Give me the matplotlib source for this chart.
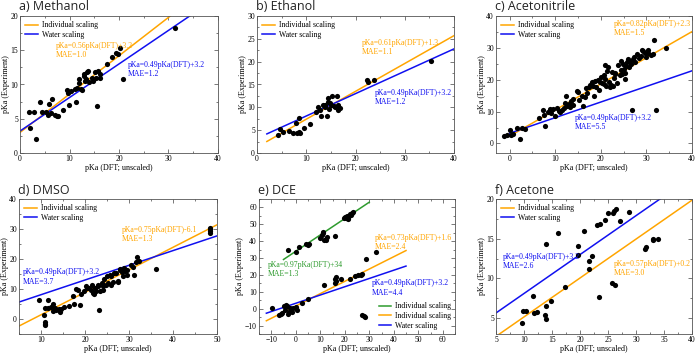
import matplotlib
matplotlib.use("Agg")
import matplotlib.pyplot as plt
from matplotlib.ticker import MultipleLocator

ORANGE = "#FFA500"
BLUE = "#1010F0"
GREEN = "#2E9B2E"

# ---------------- data ----------------
meoh_x = [3.3, 2.1, 1.8, 2.8, 4.0, 4.5, 5.2, 5.6, 5.8, 6.3, 6.4, 7.0, 7.4, 7.7, 8.6, 9.4, 9.7, 9.8,
          10.4, 11.2, 11.4, 11.6, 11.9, 12.3, 12.6, 12.9, 13.0, 13.3, 13.6, 13.8, 14.0, 14.5, 14.8,
          15.2, 15.4, 15.5, 15.8, 16.1, 16.2, 17.6, 18.6, 19.4, 19.8, 20.3, 20.9, 31.4, 12.0, 13.1]
meoh_y = [2.0, 3.7, 6.0, 6.0, 7.4, 6.0, 6.0, 5.6, 7.2, 5.9, 7.9, 5.5, 5.4, 5.4, 6.3, 9.2, 8.8, 7.0,
          9.0, 9.3, 7.4, 9.5, 10.2, 9.4, 9.2, 11.2, 11.5, 10.8, 11.8, 11.9, 10.4, 11.0, 10.5,
          11.8, 11.0, 6.8, 11.9, 11.6, 10.9, 13.0, 14.0, 14.6, 14.4, 15.3, 10.8, 18.3, 10.8, 10.5]

etoh_x = [4.2, 4.7, 5.3, 6.5, 7.3, 8.0, 8.1, 8.5, 8.5, 8.7, 9.6, 10.8, 12.0, 12.3, 12.7, 12.9, 13.5,
          13.8, 14.3, 14.5, 14.6, 14.8, 15.0, 15.3, 15.6, 15.9, 16.3, 16.4, 16.5, 16.8, 22.3, 22.6,
          23.8, 35.3, 13.8, 14.4]
etoh_y = [4.0, 5.3, 4.6, 4.8, 4.3, 6.6, 4.3, 4.5, 7.6, 4.3, 5.5, 6.3, 9.0, 10.0, 9.5, 8.2, 10.5,
          10.0, 8.2, 12.0, 9.7, 11.0, 10.6, 12.4, 10.3, 10.0, 12.5, 9.5, 10.5, 9.8, 16.0, 15.6,
          15.9, 20.2, 10.5, 11.2]

acn_x = [-1.2, -0.5, 0.0, 0.2, 0.7, 1.5, 2.2, 2.6, 3.3, 6.5, 7.3, 7.8, 7.5, 8.3, 9.0, 9.6, 9.9,
         10.3, 11.0, 11.4, 12.0, 12.4, 12.6, 13.0, 13.5, 13.8, 14.0, 14.8, 14.9, 15.3, 15.8, 16.0,
         16.5, 17.0, 17.5, 17.7, 18.0, 18.3, 18.5, 18.8, 19.0, 19.3, 19.7, 20.0, 20.3, 20.6, 20.9,
         21.2, 21.4, 21.6, 21.8, 22.0, 22.3, 22.6, 22.9, 23.2, 23.5, 23.8, 24.1, 24.4, 24.6, 24.9,
         25.2, 25.5, 25.8, 26.0, 26.3, 26.6, 26.8, 27.0, 27.3, 27.6, 28.0, 28.4, 28.8, 29.2, 29.6,
         30.0, 30.4, 30.9, 31.4, 31.7, 32.2, 34.2, 25.0, 23.0, 20.8, 19.9, 16.8, 13.3, 12.1, 10.8,
         8.8, 25.4, 26.2, 29.0, 30.3, 22.5, 21.0, 24.5]
acn_y = [2.3, 2.6, 4.3, 2.8, 3.0, 4.8, 1.3, 5.0, 4.5, 8.0, 10.4, 5.5, 9.0, 10.0, 9.5, 10.8, 8.5,
         11.0, 9.8, 10.5, 11.2, 15.0, 11.8, 12.5, 13.2, 12.0, 14.0, 16.5, 16.0, 13.5, 15.0, 11.8,
         14.6, 15.8, 17.6, 18.4, 19.2, 18.0, 15.0, 19.7, 17.8, 20.0, 16.8, 21.0, 19.0, 21.5, 20.2,
         18.0, 22.8, 24.0, 19.4, 17.8, 18.3, 18.0, 20.5, 21.8, 19.0, 24.5, 21.5, 23.0, 21.8, 25.0,
         22.0, 24.2, 25.5, 26.5, 25.8, 24.8, 10.5, 26.5, 27.0, 25.5, 28.0, 26.8, 27.5, 29.0, 28.5,
         27.0, 28.5, 27.8, 28.0, 32.5, 10.6, 29.8, 23.5, 22.0, 18.6, 19.3, 17.3, 11.5, 12.8, 10.3,
         10.7, 20.1, 24.0, 29.4, 29.2, 22.4, 24.5, 26.0]

dmso_x = [9.5, 10.6, 10.9, 11.0, 11.0, 11.0, 11.6, 11.7, 12.2, 12.7, 12.8, 13.2, 13.5, 14.2, 14.3,
          14.5, 15.2, 16.3, 17.2, 17.5, 18.4, 18.9, 19.2, 19.8, 20.2, 20.5, 20.8, 21.3, 21.6, 21.8,
          22.0, 22.3, 22.6, 23.0, 23.2, 23.4, 23.8, 24.1, 24.4, 24.7, 25.0, 25.3, 25.6, 25.9, 26.3,
          26.7, 27.1, 27.4, 27.6, 27.9, 28.3, 28.6, 28.9, 29.2, 29.5, 29.6, 30.4, 30.9, 31.2, 31.6,
          31.9, 32.3, 36.2, 48.3, 48.4, 48.5, 48.4, 24.2, 22.9, 26.0, 28.0, 18.0]
dmso_y = [6.5, 1.2, 3.8, -1.0, -1.5, -2.0, 6.2, 3.8, 3.9, 2.8, 5.0, 3.6, 3.0, 3.5, 2.5,
          3.3, 4.0, 4.2, 7.8, 5.0, 9.8, 4.6, 8.5, 9.3, 11.0, 10.5, 10.2, 9.8, 11.2, 8.8,
          8.5, 10.3, 9.3, 11.0, 3.0, 9.5, 12.0, 11.0, 13.3, 11.3, 14.3, 12.0, 14.8, 11.5, 12.3,
          15.3, 15.5, 12.8, 12.2, 16.2, 15.8, 14.5, 17.0, 16.0, 16.5, 14.8, 18.0, 17.5, 14.8, 19.0,
          20.8, 19.2, 16.8, 29.2, 29.9, 30.3, 28.8, 9.8, 11.5, 14.5, 16.8, 10.0]

dce_up_x = [-3.0, 0.0, 1.5, 4.0, 5.2, 5.3, 10.0, 10.8, 11.2, 11.5, 12.3, 12.8, 16.0, 19.5, 20.0,
            20.5, 21.0, 21.5, 22.0, 22.5, 23.0, 23.5, 21.2, 11.0]
dce_up_y = [34.8, 33.5, 36.3, 38.5, 37.5, 38.3, 42.0, 43.5, 45.5, 40.5, 41.0, 42.5, 43.2, 53.5, 54.2,
            53.8, 55.2, 54.0, 56.0, 55.5, 56.8, 57.5, 53.0, 44.8]
dce_lo_x = [-9.5, -7.0, -6.0, -5.5, -4.8, -4.5, -4.0, -3.5, -3.0, -2.8, -2.5, -2.0, -1.5, -1.0, 0.0,
            0.5, 2.5, 5.0, 11.5, 16.0, 16.2, 16.3, 16.5, 18.5, 22.0, 24.0, 25.5, 26.5, 27.0, 27.2,
            28.0, 28.3, 28.5, 32.8]
dce_lo_y = [0.3, -3.5, -3.0, -2.8, 1.5, -1.0, 2.0, 1.8, -3.2, -2.0, 0.5, -0.5, -1.8, 0.2, 0.8,
            -0.5, 3.5, 5.5, 13.8, 15.0, 17.5, 18.7, 16.5, 17.5, 17.8, 19.5, 20.2, 19.8, 20.5, -4.0,
            -4.5, -5.0, 29.2, 33.3]

acet_x = [9.6, 9.9, 10.3, 11.6, 11.7, 12.3, 13.7, 13.9, 14.0, 14.0, 14.8, 16.1, 17.3, 19.7, 19.7,
          20.8, 21.6, 21.6, 22.2, 23.0, 23.4, 23.5, 24.5, 25.0, 25.8, 25.9, 26.0, 26.2, 26.4, 27.1,
          28.8, 31.6, 31.8, 33.0, 33.1, 33.9]
acet_y = [4.4, 5.9, 5.9, 7.8, 5.6, 5.8, 5.4, 4.9, 6.5, 14.3, 7.2, 15.7, 8.9, 14.1, 13.0,
          16.0, 12.2, 11.2, 12.8, 16.7, 7.6, 16.9, 17.4, 18.2, 9.4, 18.2, 18.5, 9.2, 18.8, 17.2,
          18.3, 13.7, 14.0, 14.8, 15.0, 15.0]

# fit lines as drawn: (slope, intercept)
water_fit = (0.49, 3.2)
meoh_fit = (0.56, 3.0)
etoh_fit = (0.61, 1.3)
acn_fit = (0.82, 2.3)
dmso_fit = (0.75, -6.1)
dce_fit = (0.73, 1.6)
dce_up_fit = (0.97, 34.0)
acet_fit = (0.49, 0.25)

panels = [
    dict(title="a) Methanol", x=meoh_x, y=meoh_y, fit=meoh_fit, xr=(0, 40), wr=(0, 40),
         xlim=(0, 40), ylim=(0, 20), xt=10, yt=5,
         otext=("pKa=0.56pKa(DFT)+3.2\nMAE=1.0", 7.3, 16.2),
         btext=("pKa=0.49pKa(DFT)+3.2\nMAE=1.2", 21.8, 13.4),
         pos=[20, 16, 218, 153]),
    dict(title="b) Ethanol", x=etoh_x, y=etoh_y, fit=etoh_fit, xr=(2, 40), wr=(2, 40),
         xlim=(0, 40), ylim=(0, 30), xt=10, yt=5,
         otext=("pKa=0.61pKa(DFT)+1.3\nMAE=1.1", 21.2, 25.0),
         btext=("pKa=0.49pKa(DFT)+3.2\nMAE=1.2", 24.0, 14.0),
         pos=[257, 16, 454, 153]),
    dict(title="c) Acetonitrile", x=acn_x, y=acn_y, fit=acn_fit, xr=(0, 40), wr=(0, 40),
         xlim=(-3, 40), ylim=(-3, 40), xt=10, yt=10,
         otext=("pKa=0.82pKa(DFT)+2.3\nMAE=1.5", 22.8, 38.8),
         btext=("pKa=0.49pKa(DFT)+3.2\nMAE=5.5", 14.2, 9.3),
         pos=[496, 16, 692, 153]),
    dict(title="d) DMSO", x=dmso_x, y=dmso_y, fit=dmso_fit, xr=(5, 50), wr=(5, 50),
         xlim=(5, 50), ylim=(-5, 40), xt=10, yt=10,
         otext=("pKa=0.75pKa(DFT)-6.1\nMAE=1.3", 28.4, 31.0),
         btext=("pKa=0.49pKa(DFT)+3.2\nMAE=3.7", 5.8, 16.9),
         pos=[19, 199, 217, 334]),
    dict(title="e) DCE", x=dce_lo_x, y=dce_lo_y, fit=dce_fit, xr=(-12, 45), wr=(-12, 45),
         xlim=(-15, 65), ylim=(-15, 65), xt=10, yt=10,
         otext=("pKa=0.73pKa(DFT)+1.6\nMAE=2.4", 32.3, 44.5),
         btext=("pKa=0.49pKa(DFT)+3.2\nMAE=4.4", 31.0, 17.3),
         pos=[259, 199, 455, 334]),
    dict(title="f) Acetone", x=acet_x, y=acet_y, fit=acet_fit, xr=(5, 40), wr=(5, 40),
         xlim=(5, 40), ylim=(3, 20), xt=5, yt=5,
         otext=("pKa=0.57pKa(DFT)+0.2\nMAE=3.0", 26.1, 12.3),
         btext=("pKa=0.49pKa(DFT)+3.2\nMAE=2.6", 6.3, 13.2),
         pos=[496, 199, 692, 334]),
]

W, H = 697, 354
fig = plt.figure(figsize=(W / 100, H / 100), dpi=100)
SERIF = "Liberation Serif"
TXT = 5.6
LEG = 5.6

for i, p in enumerate(panels):
    l, t, r, b = p["pos"]
    ax = fig.add_axes([l / W, 1 - b / H, (r - l) / W, (b - t) / H])
    ax.set_xlim(*p["xlim"])
    ax.set_ylim(*p["ylim"])

    if i == 4:
        ax.scatter(dce_up_x, dce_up_y, s=14, color="black", zorder=3, linewidths=0)
        xs = [-5, 30]
        ax.plot(xs, [dce_up_fit[0] * v + dce_up_fit[1] for v in xs], color=GREEN, lw=1.1,
                label="Individual scaling", zorder=2)
    ax.scatter(p["x"], p["y"], s=14, color="black", zorder=3, linewidths=0)
    xs = list(p["xr"])
    m, c = p["fit"]
    ax.plot(xs, [m * v + c for v in xs], color=ORANGE, lw=1.1, label="Individual scaling", zorder=2)
    xs = list(p["wr"])
    ax.plot(xs, [water_fit[0] * v + water_fit[1] for v in xs], color=BLUE, lw=1.1,
            label="Water scaling", zorder=2)

    s, tx, ty = p["otext"]
    ax.text(tx, ty, s, color=ORANGE, fontsize=TXT, family=SERIF, va="top", ha="left",
            linespacing=1.2)
    s, tx, ty = p["btext"]
    ax.text(tx, ty, s, color=BLUE, fontsize=TXT, family=SERIF, va="top", ha="left",
            linespacing=1.2)
    if i == 4:
        ax.text(-11.5, 28.5, "pKa=0.97pKa(DFT)+34\nMAE=1.3", color=GREEN, fontsize=TXT,
                family=SERIF, va="top", ha="left", linespacing=1.2)
        ax.legend(loc="lower right", frameon=False, prop=dict(family=SERIF, size=LEG),
                  handlelength=1.6, labelspacing=0.25, borderaxespad=0.1, handletextpad=0.5)
    else:
        ax.legend(loc="upper left", frameon=False, prop=dict(family=SERIF, size=LEG),
                  handlelength=1.6, labelspacing=0.2, borderaxespad=0.3, handletextpad=0.5)

    ax.xaxis.set_major_locator(MultipleLocator(p["xt"]))
    ax.yaxis.set_major_locator(MultipleLocator(p["yt"]))
    ax.xaxis.set_minor_locator(MultipleLocator(p["xt"] / 2))
    ax.yaxis.set_minor_locator(MultipleLocator(p["yt"] / 2))
    ax.tick_params(which="both", direction="in", top=True, right=True, labelsize=5.5,
                   width=0.5, color="#444444", pad=1.5)
    ax.tick_params(which="major", length=3)
    ax.tick_params(which="minor", length=1.6)
    for lab in ax.get_xticklabels() + ax.get_yticklabels():
        lab.set_family(SERIF)
    for sp in ax.spines.values():
        sp.set_linewidth(0.6)
        sp.set_color("#555555")
    ax.set_xlabel("pKa (DFT; unscaled)", family=SERIF, fontsize=5.8, labelpad=0.5)
    ax.set_ylabel("pKa (Experiment)", family=SERIF, fontsize=5.8, labelpad=0.5)

    fig.text((l - 1) / W, 1 - (t - 9) / H, p["title"], fontsize=9, family="Open Sans",
             ha="left", va="center", color="#222222")

fig.savefig("out.png", dpi=100)
